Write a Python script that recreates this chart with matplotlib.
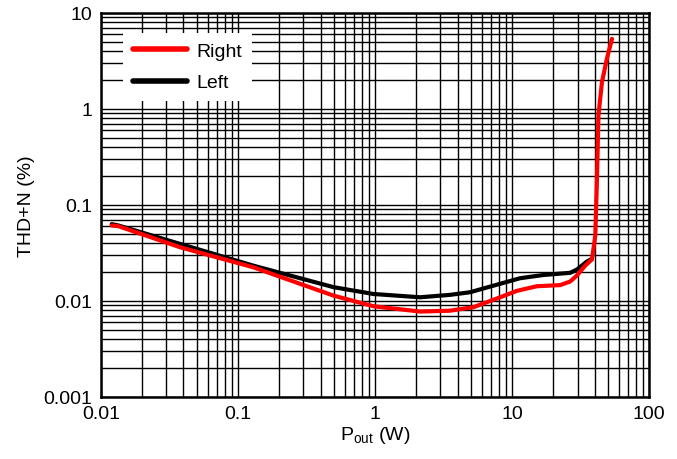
import numpy as np
import matplotlib.pyplot as plt

plt.rcParams['font.family'] = ['Liberation Sans', 'DejaVu Sans']

# Right channel THD+N vs output power
right_p = [0.012, 0.0134, 0.0378, 0.129, 0.497, 0.97, 2.13, 3.52, 5.22, 8.17, 10.8, 15.1,
           22.4, 26.5, 29.7, 34.1, 38.2, 40.4, 41.5, 42.6, 45.2, 49.1, 53.5]
right_thd = [0.061, 0.060, 0.0362, 0.0224, 0.01135, 0.0088, 0.00774, 0.0079, 0.0086, 0.0109,
             0.0127, 0.0142, 0.0146, 0.0159, 0.0184, 0.0233, 0.0270, 0.0478, 0.172, 0.851,
             1.9, 3.32, 5.36]

# Left channel THD+N vs output power
left_p = [0.012, 0.0134, 0.0378, 0.129, 0.497, 0.97, 2.13, 3.52, 4.93, 7.3, 11.4, 16.9,
          26.5, 29.7, 35.1, 38.2]
left_thd = [0.063, 0.061, 0.0392, 0.0233, 0.0139, 0.0118, 0.0109, 0.01155, 0.0123, 0.0144,
            0.0172, 0.0186, 0.0196, 0.0212, 0.0257, 0.0274]

x_ticks = [0.01, 0.1, 1, 10, 100]
x_labels = ['0.01', '0.1', '1', '10', '100']
y_ticks = [0.001, 0.01, 0.1, 1, 10]
y_labels = ['0.001', '0.01', '0.1', '1', '10']

fig = plt.figure(figsize=(6.77, 4.6), dpi=100)
ax = fig.add_axes([0.149, 0.135, 0.81, 0.835])

ax.plot(left_p, left_thd, color='black', lw=3, label='Left', solid_capstyle='round')
ax.plot(right_p, right_thd, color='#ff0000', lw=3, label='Right', solid_capstyle='round')

ax.set_xscale('log')
ax.set_yscale('log')
ax.set_xlim(0.01, 100)
ax.set_ylim(0.001, 10)
ax.set_xticks(x_ticks)
ax.set_xticklabels(x_labels)
ax.set_yticks(y_ticks)
ax.set_yticklabels(y_labels)

ax.grid(True, which='both', color='black', lw=1.0)
ax.set_axisbelow(True)
ax.tick_params(which='both', length=0, labelsize=14, pad=6)
for s in ax.spines.values():
    s.set_linewidth(1.8)

ax.set_xlabel(r'P$_{\mathregular{out}}$ (W)', fontsize=14, labelpad=1)
ax.set_ylabel('THD+N (%)', fontsize=14, labelpad=6)

h, l = ax.get_legend_handles_labels()
leg = ax.legend(h[::-1], l[::-1], loc='upper left', bbox_to_anchor=(0.04, 0.948),
                frameon=True, fancybox=False, edgecolor='white', framealpha=1,
                fontsize=14, handlelength=2.8, handletextpad=0.5, borderpad=0.5,
                labelspacing=0.7, borderaxespad=0)
leg.get_frame().set_linewidth(0)
for line in leg.get_lines():
    line.set_linewidth(4)

fig.savefig('out.png', dpi=100)
